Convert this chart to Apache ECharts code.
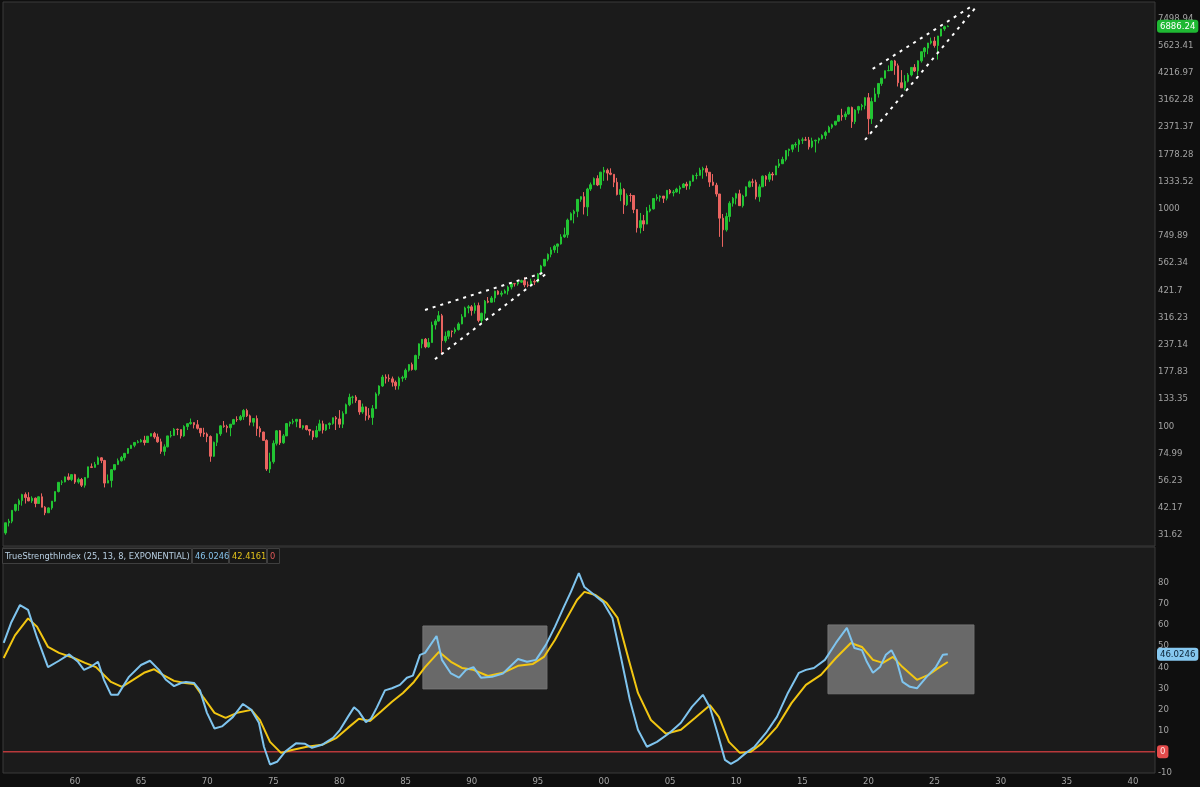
<!DOCTYPE html>
<html><head><meta charset="utf-8">
<script src="https://cdn.jsdelivr.net/npm/echarts@6/dist/echarts.min.js"></script>
<style>html,body{margin:0;padding:0;background:#0f0f0f;overflow:hidden}#c{width:1200px;height:787px}</style>
</head><body><div id="c"></div>
<script>
// ---- DATA ----
const firstQuarter = 1954.75; // 1954 Q4, one candle per quarter
const close = [35.98,
36.58,41.03,43.67,45.48, 48.48,46.97,45.35,46.67, 44.11,47.37,42.42,39.99, 42.10,45.24,50.06,55.21, 55.44,58.47,56.88,59.89,
55.34,56.92,53.52,58.11, 65.06,64.64,66.73,71.55, 69.55,54.75,56.27,63.10, 66.57,69.37,71.70,75.02, 78.98,81.69,84.18,84.75,
86.16,84.12,89.96,92.43, 89.23,84.74,76.56,80.33, 90.20,90.64,96.71,96.47, 90.20,99.58,102.67,103.86, 101.51,97.71,93.12,92.06,
89.63,72.72,84.30,92.15, 100.31,99.70,98.34,102.09, 107.20,107.14,110.55,118.05, 111.52,104.26,108.43,97.55, 93.98,86.00,63.54,68.56,
83.36,95.19,83.87,90.19, 102.77,104.28,105.24,107.46, 98.42,100.48,96.53,95.10, 89.21,95.53,102.54,96.11, 101.59,102.91,109.32,107.94,
102.09,114.24,125.46,135.76, 136.00,131.21,116.18,122.55, 111.96,109.61,120.42,140.64, 152.96,168.11,166.07,164.93, 159.18,153.18,166.10,167.24,
180.66,191.85,182.08,211.28, 238.90,250.84,231.32,242.17, 291.70,304.00,321.83,247.08, 258.89,273.50,271.91,277.72, 294.87,317.98,349.15,353.40,
339.94,358.02,306.05,330.22, 375.22,371.16,387.86,417.09, 403.69,408.14,417.80,435.71, 451.67,450.53,458.93,466.45, 445.77,444.27,462.69,459.27,
500.71,544.75,584.41,615.93, 645.50,670.63,687.31,740.74, 757.12,885.14,947.28,970.43, 1101.75,1133.84,1017.01,1229.23, 1286.37,1372.71,1282.71,1469.25,
1498.58,1454.60,1436.51,1320.28, 1160.33,1224.42,1040.94,1148.08, 1147.39,989.82,815.28,879.82, 848.18,974.50,995.97,1111.92, 1126.21,1140.84,1114.58,1211.92,
1180.59,1191.33,1228.81,1248.29, 1294.83,1270.20,1335.85,1418.30, 1420.86,1503.35,1526.75,1468.36, 1322.70,1280.00,1166.36,903.25, 797.87,919.32,1057.08,1115.10,
1169.43,1030.71,1141.20,1257.64, 1325.83,1320.64,1131.42,1257.60, 1408.47,1362.16,1440.67,1426.19, 1569.19,1606.28,1681.55,1848.36, 1872.34,1960.23,1972.29,2058.90,
2067.89,2063.11,1920.03,2043.94, 2059.74,2098.86,2168.27,2238.83, 2362.72,2423.41,2519.36,2673.61, 2640.87,2718.37,2913.98,2506.85, 2834.40,2941.76,2976.74,3230.78,
2584.59,3100.29,3363.00,3756.07, 3972.89,4297.50,4307.54,4766.18, 4530.41,3785.38,3585.62,3839.50, 4109.31,4450.38,4288.05,4769.83, 5254.35,5460.48,5762.48,5881.63,
5611.85,6204.95,6688.46,6845.50, 6886.24];
const open = [32.31,
35.98,36.58,41.03,43.67, 45.48,48.48,46.97,45.35, 46.67,44.11,47.37,42.42, 39.99,42.10,45.24,50.06, 55.21,55.44,58.47,56.88,
59.89,55.34,56.92,53.52, 58.11,65.06,64.64,66.73, 71.55,69.55,54.75,56.27, 63.10,66.57,69.37,71.70, 75.02,78.98,81.69,84.18,
84.75,86.16,84.12,89.96, 92.43,89.23,84.74,76.56, 80.33,90.20,90.64,96.71, 96.47,90.20,99.58,102.67, 103.86,101.51,97.71,93.12,
92.06,89.63,72.72,84.30, 92.15,100.31,99.70,98.34, 102.09,107.20,107.14,110.55, 118.05,111.52,104.26,108.43, 97.55,93.98,86.00,63.54,
68.56,83.36,95.19,83.87, 90.19,102.77,104.28,105.24, 107.46,98.42,100.48,96.53, 95.10,89.21,95.53,102.54, 96.11,101.59,102.91,109.32,
107.94,102.09,114.24,125.46, 135.76,136.00,131.21,116.18, 122.55,111.96,109.61,120.42, 140.64,152.96,168.11,166.07, 164.93,159.18,153.18,166.10,
167.24,180.66,191.85,182.08, 211.28,238.90,250.84,231.32, 242.17,291.70,304.00,321.83, 247.08,258.89,273.50,271.91, 277.72,294.87,317.98,349.15,
353.40,339.94,358.02,306.05, 330.22,375.22,371.16,387.86, 417.09,403.69,408.14,417.80, 435.71,451.67,450.53,458.93, 466.45,445.77,444.27,462.69,
459.27,500.71,544.75,584.41, 615.93,645.50,670.63,687.31, 740.74,757.12,885.14,947.28, 970.43,1101.75,1133.84,1017.01, 1229.23,1286.37,1372.71,1282.71,
1469.25,1498.58,1454.60,1436.51, 1320.28,1160.33,1224.42,1040.94, 1148.08,1147.39,989.82,815.28, 879.82,848.18,974.50,995.97, 1111.92,1126.21,1140.84,1114.58,
1211.92,1180.59,1191.33,1228.81, 1248.29,1294.83,1270.20,1335.85, 1418.30,1420.86,1503.35,1526.75, 1468.36,1322.70,1280.00,1166.36, 903.25,797.87,919.32,1057.08,
1115.10,1169.43,1030.71,1141.20, 1257.64,1325.83,1320.64,1131.42, 1257.60,1408.47,1362.16,1440.67, 1426.19,1569.19,1606.28,1681.55, 1848.36,1872.34,1960.23,1972.29,
2058.90,2067.89,2063.11,1920.03, 2043.94,2059.74,2098.86,2168.27, 2238.83,2362.72,2423.41,2519.36, 2673.61,2640.87,2718.37,2913.98, 2506.85,2834.40,2941.76,2976.74,
3230.78,2584.59,3100.29,3363.00, 3756.07,3972.89,4297.50,4307.54, 4766.18,4530.41,3785.38,3585.62, 3839.50,4109.31,4450.38,4288.05, 4769.83,5254.35,5460.48,5762.48,
5881.63,5611.85,6204.95,6688.46, 6845.50];
const high = [36.0,
37.5,41.2,44.0,46.4, 48.9,49.6,49.7,47.6, 47.0,47.6,49.1,42.9, 42.4,45.3,50.1,55.3, 56.5,58.7,60.7,60.0,
60.4,58.0,57.8,58.4, 65.1,67.4,68.5,72.6, 72.0,70.0,60.0,63.4, 66.7,71.0,73.0,75.2, 79.1,82.0,84.4,86.3,
87.4,90.3,90.1,92.6, 94.1,92.4,87.6,82.5, 90.3,95.0,98.0,97.6, 96.6,101.0,103.0,108.4, 104.0,106.7,98.0,98.3,
93.5,90.7,84.9,92.8, 101.0,105.6,101.5,102.2, 108.0,111.0,112.6,119.8, 120.2,113.0,109.0,112.0, 99.8,94.3,87.0,75.5,
86.0,96.0,96.0,92.0, 103.4,105.0,108.0,108.0, 107.5,101.0,101.0,97.0, 95.2,100.3,107.0,106.0, 102.0,104.0,109.5,111.3,
118.5,117.0,127.0,141.0, 138.0,138.8,132.0,127.0, 123.0,121.0,125.0,143.0, 154.0,172.0,173.0,173.0, 169.0,162.0,169.0,170.5,
184.0,193.0,196.0,213.0, 240.0,251.0,254.0,254.0, 302.0,310.0,338.0,328.0, 272.0,275.0,275.0,284.0, 300.0,327.0,354.0,360.0,
360.0,369.0,369.8,332.0, 380.0,392.0,396.0,419.0, 421.0,419.0,425.0,442.0, 457.0,455.0,463.0,471.0, 483.0,462.0,476.0,473.0,
505.0,551.0,586.0,622.0, 664.0,681.0,690.0,762.0, 817.0,899.0,961.0,987.0, 1106.0,1139.0,1190.0,1245.0, 1317.0,1390.0,1421.0,1474.0,
1553.0,1527.0,1530.0,1437.0, 1383.0,1316.0,1240.0,1173.0, 1176.0,1147.8,994.0,954.0, 935.0,1015.0,1040.0,1112.0, 1163.0,1150.0,1141.0,1217.0,
1229.0,1217.0,1246.0,1275.0, 1310.0,1326.7,1340.0,1431.0, 1461.6,1540.0,1555.9,1576.1, 1471.8,1440.2,1313.0,1167.0, 943.9,956.2,1080.2,1130.4,
1180.7,1219.8,1157.2,1262.6, 1344.1,1370.6,1356.5,1292.7, 1419.2,1422.4,1474.5,1471.0, 1570.3,1687.2,1729.9,1849.4, 1884.0,1968.2,2019.3,2093.6,
2119.6,2134.7,2132.8,2116.5, 2072.2,2120.6,2193.8,2277.5, 2401.1,2453.8,2519.4,2695.0, 2872.9,2791.5,2940.9,2939.9, 2860.3,2964.2,3028.0,3247.9,
3393.5,3233.1,3588.1,3760.2, 3983.9,4302.4,4545.9,4808.9, 4818.6,4637.3,4325.3,4101.0, 4195.4,4458.5,4607.1,4793.3, 5264.9,5523.6,5767.4,6100.0,
6147.4,6215.1,6699.5,6920.3, 6945.0];
const low = [31.7,
34.6,35.8,40.5,40.8, 43.1,44.1,45.2,44.4, 42.4,43.9,42.4,38.98, 39.9,41.3,44.9,49.6, 53.6,55.2,56.3,55.9,
54.3,54.4,52.5,52.2, 57.6,64.2,64.5,66.5, 67.6,52.3,54.8,52.3, 62.6,66.4,68.8,69.6, 74.5,78.7,80.0,83.4,
84.2,81.6,83.9,89.7, 87.5,83.9,74.6,73.2, 79.9,88.6,90.3,90.9, 87.7,89.3,96.0,101.6, 97.6,96.4,89.5,89.2,
84.4,68.6,72.2,81.0, 90.2,98.3,93.5,89.9, 101.7,104.7,105.9,106.8, 110.1,100.7,99.8,90.2, 88.9,85.9,62.3,60.96,
67.2,81.5,82.0,82.9, 90.0,99.5,102.0,98.9, 98.0,96.5,95.5,90.7, 86.5,88.5,94.5,92.5, 95.0,97.0,101.5,96.0,
98.2,98.0,113.5,123.5, 127.0,128.0,112.8,114.0, 106.0,107.0,101.4,120.0, 138.0,151.5,157.0,160.0, 152.0,147.0,147.3,160.0,
163.0,178.0,180.0,180.0, 203.5,228.0,228.0,229.0, 242.0,278.0,302.0,216.5, 242.0,251.0,256.0,266.0, 275.0,294.0,317.0,330.0,
322.0,329.0,300.0,294.5, 309.0,367.0,370.0,371.0, 400.0,394.0,409.0,402.0, 425.0,438.0,442.0,455.0, 435.0,435.0,443.0,445.0,
457.0,494.0,542.0,572.0, 597.0,626.0,624.0,683.0, 733.0,733.0,884.0,855.0, 912.0,1074.0,939.0,923.0, 1205.0,1282.0,1268.0,1233.0,
1339.0,1344.0,1422.0,1254.0, 1148.0,1081.0,944.8,1027.0, 1074.0,952.0,775.7,768.6, 788.9,847.0,960.0,990.0, 1087.0,1076.0,1060.7,1090.0,
1163.0,1137.0,1183.0,1168.0, 1245.0,1219.0,1224.5,1327.0, 1363.0,1416.0,1370.6,1406.0, 1257.0,1272.0,1133.5,741.0, 666.8,783.3,869.3,1020.2,
1044.5,1028.3,1010.9,1131.9, 1249.1,1258.1,1101.5,1074.8, 1257.0,1266.7,1325.4,1343.4, 1426.2,1536.0,1604.6,1646.5, 1737.9,1814.4,1904.8,1820.7,
1980.9,2048.4,1867.0,1893.7, 1810.1,1991.7,2074.0,2083.8, 2233.0,2322.3,2405.7,2511.0, 2532.7,2553.8,2699.0,2346.6, 2444.0,2728.8,2822.1,2855.9,
2191.9,2447.5,3088.0,3233.9, 3662.7,3955.0,4278.9,4278.9, 4114.7,3636.9,3584.1,3491.6, 3794.3,4048.3,4238.6,4103.8, 4682.1,4953.6,5119.3,5674.0,
5488.7,4835.0,6177.0,6550.8, 6820.0];

const priceTicks = [31.62,42.17,56.23,74.99,100,133.35,177.83,237.14,316.23,421.7,562.34,749.89,1000,1333.52,1778.28,2371.37,3162.28,4216.97,5623.41,7498.94];
const yearTicks = [1960,1965,1970,1975,1980,1985,1990,1995,2000,2005,2010,2015,2020,2025,2030,2035,2040];

const tsiYears = [1954.61,1955.16,1955.84,1956.45,1957.13,1957.96,1958.79,1959.55,1960.23,1960.68,1961.29,1961.74,1962.19,1962.72,1963.25,1964.08,1964.99,1965.67,1966.35,1966.88,1967.49,1968.02,1968.39,1969.0,1969.45,1969.98,1970.55,1971.11,1971.95,1972.70,1973.34,1973.91,1974.29,1974.75,1975.28,1975.88,1976.71,1977.40,1977.92,1978.68,1979.51,1980.04,1980.64,1981.10,1981.47,1982.0,1982.38,1982.83,1983.44,1983.97,1984.57,1985.10,1985.55,1986.09,1986.47,1987.34,1987.75,1988.43,1989.04,1989.57,1990.13,1990.70,1991.53,1992.36,1993.50,1994.18,1994.86,1995.61,1996.29,1996.97,1997.50,1998.10,1998.52,1999.09,1999.92,2000.64,2001.28,2001.96,2002.57,2003.25,2004.01,2004.95,2005.82,2006.65,2007.48,2008.01,2008.58,2009.15,2009.60,2010.13,2010.74,2011.39,2012.25,2013.08,2013.91,2014.74,2015.27,2015.88,2016.71,2017.54,2018.37,2018.94,2019.51,2019.88,2020.34,2020.87,2021.32,2021.74,2022.12,2022.58,2023.14,2023.67,2024.35,2025.10,2025.63,2026.0];
const tsiValues = [51.4,60.8,69.3,67,54,40,43,46,42.5,38.7,40.5,42.5,34,27,27,35.4,41,43,38.7,34,31,32.5,33,32.5,29,18.4,11,12,16.5,22.6,19.8,13.7,2.4,-6,-4.7,0,4,3.8,1.9,3.3,6.6,10.4,16.5,21,19,14,15.6,21,29,30,31.6,35,36,45.8,46.7,54.7,43.4,37,35,38.7,40,35,35.4,37,43.8,42.5,43.4,50.5,59,68.4,75.5,84.4,77.8,75,70.8,63.2,44.8,24.5,10.4,2.4,4.7,8.9,13.7,21.2,26.9,21,9,-3.8,-5.7,-3.8,-0.5,2.4,8.9,16.5,27.8,37.3,38.7,39.6,43.4,51.4,58.5,49,48,42.5,37.3,40,45.8,48,43.4,33,30.7,30,35,40,45.8,46.0246];
const signalYears = [1954.61,1955.46,1956.45,1957.13,1957.96,1958.79,1959.92,1960.76,1961.59,1962.72,1963.55,1964.39,1965.22,1965.97,1966.65,1967.49,1968.32,1969.0,1969.68,1970.55,1971.39,1972.25,1973.34,1973.99,1974.75,1975.58,1976.41,1977.54,1978.68,1979.78,1980.64,1981.47,1982.31,1983.14,1983.97,1984.80,1985.63,1986.47,1987.52,1988.43,1989.26,1990.13,1991.23,1992.36,1993.50,1994.63,1995.46,1996.29,1997.12,1997.96,1998.52,1999.36,2000.19,2001.03,2001.88,2002.57,2003.55,2004.69,2005.82,2006.88,2008.01,2008.69,2009.45,2010.28,2011.11,2011.94,2013.08,2014.18,2015.27,2016.41,2017.54,2018.67,2019.51,2020.34,2021.09,2021.85,2022.58,2023.67,2024.54,2025.38,2026.0];
const signalValues = [44.3,55,63,59,49.5,46.7,44.3,42,40,33,30.7,34,37.3,39,36.3,33.5,32.5,32,26,18.4,16,18.4,19.8,15,4.7,-0.5,0.9,2.4,3.3,6.6,11.3,15.6,14.6,19,23.6,27.8,33,40,47.2,42.5,39.6,38.7,35.8,37.3,40.6,41.5,44.8,52.8,62.3,71.7,75.5,74,70.3,63.2,43.4,27.8,15,8.5,10.4,16,22,16.5,4.7,-0.5,0,4,11.8,23,31.6,36.3,44.3,51.4,49.5,43.4,42,44.8,40,34,36.3,40,42.4161];

const lastPrice = 6886.24, lastTsi = 46.0246, lastSignal = 42.4161, zeroLevel = 0;
// dotted wedge annotations: [[year, price], [year, price]]
const trendLines = [
  [[1986.47, 342], [1995.69, 513]],
  [[1987.22, 203], [1995.77, 509]],
  [[2020.32, 4381], [2027.88, 8558]],
  [[2019.74, 2067], [2028.13, 8414]]
];
// highlighted TSI zones: [x0, y0, x1, y1]
const zones = [[1986.31, 59.4, 1995.69, 29.7], [2016.94, 59.9, 2027.98, 27.4]];

// ---- CHART ----
const FONT = "'DejaVu Sans Condensed','Liberation Sans Narrow',Roboto,sans-serif";
const X_MIN = 1954.556, X_MAX = 2041.67;
const UP = '#22c433', DOWN = '#ea6460';

const candles = close.map((c, i) => [firstQuarter + i * 0.25, open[i], c, low[i], high[i]]);
const tsiData = tsiYears.map((y, i) => [y, tsiValues[i]]);
const sigData = signalYears.map((y, i) => [y, signalValues[i]]);

const HIDDEN_LINE = { color: 'rgba(0,0,0,0)', width: 0 };
function bubble(text, bg, fg) {
  return { show: true, position: 'end', distance: 2, formatter: text, backgroundColor: bg, color: fg,
    padding: [2, 3, 1, 3], borderRadius: 3, fontSize: 9.5, fontFamily: FONT, opacity: 1 };
}

const chart = echarts.init(document.getElementById('c'));
const series = [
  {
    type: 'candlestick', xAxisIndex: 0, yAxisIndex: 0, data: candles,
    encode: { x: 0, y: [1, 2, 3, 4] }, barWidth: 2,
    itemStyle: { color: UP, color0: DOWN, borderColor: UP, borderColor0: DOWN, borderWidth: 1 },
    markLine: { silent: true, symbol: 'none', lineStyle: HIDDEN_LINE,
      label: bubble(String(lastPrice), '#1fb833', '#ffffff'), data: [{ yAxis: lastPrice }] },
    z: 3
  }
];
trendLines.forEach(l => series.push({
  type: 'line', xAxisIndex: 0, yAxisIndex: 0, data: l, symbol: 'none', silent: true,
  lineStyle: { color: '#ffffff', width: 2, type: [3, 5] }, z: 5
}));
series.push({
  type: 'line', xAxisIndex: 1, yAxisIndex: 1, data: [[X_MIN, zeroLevel], [X_MAX, zeroLevel]],
  symbol: 'none', silent: true, lineStyle: { color: '#b8393b', width: 1.6 }, z: 2,
  markLine: { silent: true, symbol: 'none', lineStyle: HIDDEN_LINE,
    label: bubble(String(zeroLevel), '#e44b4b', '#ffe0e0'), data: [{ yAxis: zeroLevel }] },
  markArea: { silent: true, itemStyle: { color: '#696969', borderColor: '#757575', borderWidth: 1 },
    data: zones.map(z => [{ coord: [z[0], z[1]] }, { coord: [z[2], z[3]] }]) }
});
series.push({
  type: 'line', xAxisIndex: 1, yAxisIndex: 1, data: sigData, symbol: 'none', silent: true,
  lineStyle: { color: '#f2c612', width: 2 }, z: 4
});
series.push({
  type: 'line', xAxisIndex: 1, yAxisIndex: 1, data: tsiData, symbol: 'none', silent: true,
  lineStyle: { color: '#7fc4ee', width: 2 }, z: 5,
  markLine: { silent: true, symbol: 'none', lineStyle: HIDDEN_LINE,
    label: bubble(String(lastTsi), '#86c8f0', '#0b2236'), data: [{ yAxis: lastTsi }] }
});

const axisText = { color: '#a3a3a3', fontSize: 9.5, fontFamily: FONT };
const hdrY = 548, hdrH = 15;
const hdr = [
  { x: 2, w: 189, text: 'TrueStrengthIndex (25, 13, 8, EXPONENTIAL)', color: '#b8cfe2' },
  { x: 192, w: 36, text: String(lastTsi), color: '#86c2ea' },
  { x: 229, w: 37, text: String(lastSignal), color: '#e2c21c' },
  { x: 267, w: 12, text: String(zeroLevel), color: '#e25a5a' }
];
const graphics = [];
hdr.forEach(b => {
  graphics.push({ type: 'rect', shape: { x: b.x + 0.5, y: hdrY + 0.5, width: b.w, height: hdrH },
    style: { fill: '#171717', stroke: '#3f3f3f', lineWidth: 1 }, z: 100 });
  graphics.push({ type: 'text', x: b.x + 3, y: hdrY + hdrH / 2 + 1,
    style: { text: b.text, fill: b.color, font: '9.2px ' + FONT, textVerticalAlign: 'middle' }, z: 101 });
});

chart.setOption({
  backgroundColor: '#0f0f0f',
  animation: false,
  textStyle: { fontFamily: FONT },
  grid: [
    { left: 3, right: 45, top: 2, height: 544, show: true, backgroundColor: '#1b1b1b', borderColor: '#3a3a3a', borderWidth: 1 },
    { left: 3, right: 45, top: 547, height: 226, show: true, backgroundColor: '#1b1b1b', borderColor: '#3a3a3a', borderWidth: 1 }
  ],
  xAxis: [
    { type: 'value', gridIndex: 0, min: X_MIN, max: X_MAX, axisLine: { show: false }, axisTick: { show: false },
      axisLabel: { show: false }, splitLine: { show: false } },
    { type: 'value', gridIndex: 1, min: X_MIN, max: X_MAX, axisLine: { show: false }, axisTick: { show: false },
      splitLine: { show: false },
      axisLabel: Object.assign({ customValues: yearTicks, margin: 4,
        formatter: v => String(Math.round(v) % 100).padStart(2, '0') }, axisText) }
  ],
  yAxis: [
    { type: 'log', gridIndex: 0, position: 'right', min: 28.14, max: 8892,
      axisLine: { show: false }, axisTick: { show: false }, splitLine: { show: false },
      axisLabel: Object.assign({ customValues: priceTicks, margin: 3, align: 'left',
        formatter: v => String(+Number(v).toFixed(2)) }, axisText) },
    { type: 'value', gridIndex: 1, position: 'right', min: -10, max: 96.7, interval: 10,
      axisLine: { show: false }, axisTick: { show: false }, splitLine: { show: false },
      axisLabel: Object.assign({ margin: 3, align: 'left', showMaxLabel: false,
        formatter: v => (v > 85 ? '' : String(v)) }, axisText) }
  ],
  series: series,
  graphic: graphics
});
</script>
</body></html>
